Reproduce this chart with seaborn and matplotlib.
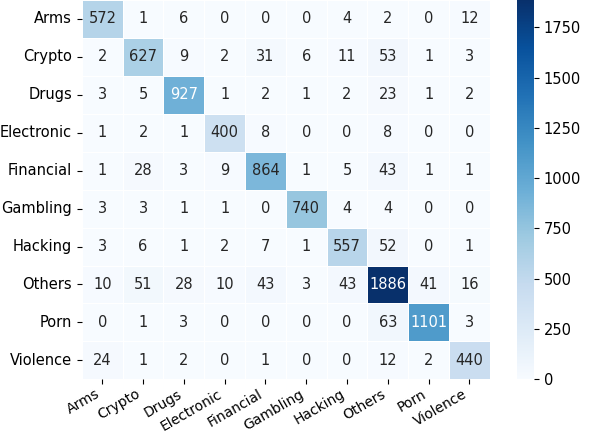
import matplotlib
matplotlib.use("Agg")
import matplotlib.pyplot as plt
import numpy as np
import seaborn as sns

labels = ["Arms", "Crypto", "Drugs", "Electronic", "Financial",
          "Gambling", "Hacking", "Others", "Porn", "Violence"]

row_arms = [572, 1, 6, 0, 0, 0, 4, 2, 0, 12]
row_crypto = [2, 627, 9, 2, 31, 6, 11, 53, 1, 3]
row_drugs = [3, 5, 927, 1, 2, 1, 2, 23, 1, 2]
row_electronic = [1, 2, 1, 400, 8, 0, 0, 8, 0, 0]
row_financial = [1, 28, 3, 9, 864, 1, 5, 43, 1, 1]
row_gambling = [3, 3, 1, 1, 0, 740, 4, 4, 0, 0]
row_hacking = [3, 6, 1, 2, 7, 1, 557, 52, 0, 1]
row_others = [10, 51, 28, 10, 43, 3, 43, 1886, 41, 16]
row_porn = [0, 1, 3, 0, 0, 0, 0, 63, 1101, 3]
row_violence = [24, 1, 2, 0, 1, 0, 0, 12, 2, 440]

matrix = np.array([row_arms, row_crypto, row_drugs, row_electronic, row_financial,
                   row_gambling, row_hacking, row_others, row_porn, row_violence])

fig = plt.figure(figsize=(5.98, 4.34), dpi=100)
ax = fig.add_axes([0.137, 0.126, 0.682, 0.874])
cax = fig.add_axes([0.865, 0.126, 0.028, 0.874])

sns.heatmap(
    matrix,
    cmap="Blues",
    linecolor="white",
    linewidths=0.5,
    xticklabels=labels,
    yticklabels=labels,
    annot=True,
    fmt="d",
    annot_kws={"fontsize": 10.5},
    ax=ax,
    cbar_ax=cax,
)
ax.tick_params(axis="y", labelsize=10.5)
ax.tick_params(axis="x", labelsize=10, pad=2)
plt.setp(ax.get_xticklabels(), rotation=30, ha="right")
plt.setp(ax.get_yticklabels(), rotation=0)
cax.tick_params(labelsize=10.5)
cax.set_yticks([0, 250, 500, 750, 1000, 1250, 1500, 1750])

fig.savefig("out.png", dpi=100)
